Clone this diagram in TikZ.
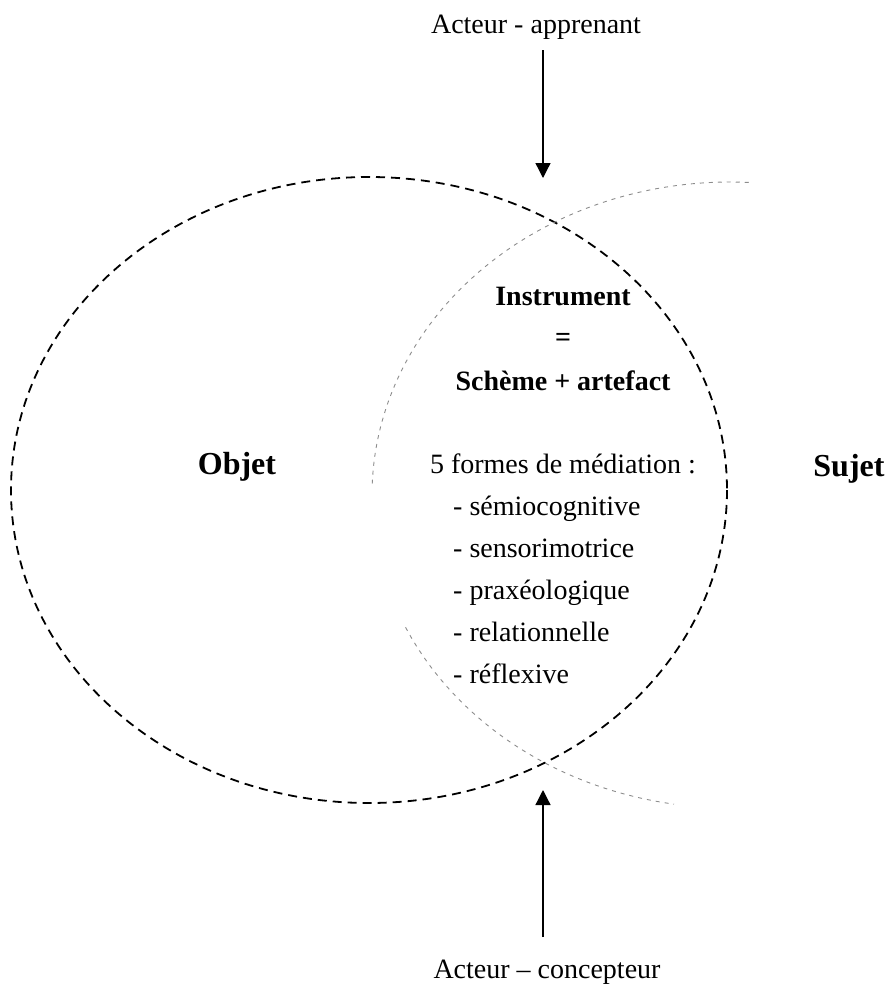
\documentclass[tikz,border=0pt]{standalone}
\usepackage{fontspec}
\setmainfont{Liberation Serif}
\usetikzlibrary{arrows.meta}
\tikzset{
  darkdash/.style={line width=1.8pt, dash pattern=on 9pt off 6pt, black},
  greydash/.style={line width=0.9pt, dash pattern=on 4pt off 5pt, black!45},
  txt/.style={inner sep=0pt, anchor=base, font=\fontsize{28}{34}\selectfont},
  btxt/.style={inner sep=0pt, anchor=base, font=\fontsize{28}{34}\selectfont\bfseries},
  bigtxt/.style={inner sep=0pt, anchor=base, font=\fontsize{32}{38}\selectfont\bfseries},
  itemtxt/.style={inner sep=0pt, anchor=base west, font=\fontsize{28}{34}\selectfont},
  actarrow/.style={line width=1.3pt, -{Triangle[width=15pt,length=15pt]}}
}
\begin{document}
\begin{tikzpicture}[x=1pt,y=-1pt]
\useasboundingbox (0,0) rectangle (889,986);
% ellipses
\draw[darkdash] (369,490) ellipse [x radius=358, y radius=313];
\draw[greydash] plot[domain=87:178, samples=80] ({730+358*cos(\x)}, {495-313*sin(\x)});
\draw[greydash] plot[domain=205:261, samples=60] ({730+358*cos(\x)}, {495-313*sin(\x)});
% texts
\node[txt] (app) at (536,33) {Acteur - apprenant};
\node[txt] (conc) at (547,978) {Acteur -- concepteur};
\node[bigtxt] (obj) at (237,474) {Objet};
\node[bigtxt] (suj) at (849,476) {Sujet};
\node[btxt] (instr) at (563,305) {Instrument};
\node[btxt] (eq) at (563,346) {=};
\node[btxt] (sch) at (563,390) {Schème + artefact};
\node[txt] (forms) at (563,473) {5 formes de médiation :};
\node[itemtxt] (i1) at (453,515) {- sémiocognitive};
\node[itemtxt] (i2) at (453,557) {- sensorimotrice};
\node[itemtxt] (i3) at (453,599) {- praxéologique};
\node[itemtxt] (i4) at (453,641) {- relationnelle};
\node[itemtxt] (i5) at (453,683) {- réflexive};
% arrows
\coordinate (topstart) at (543,50);
\coordinate (toptip) at (543,178);
\coordinate (botstart) at (543,937);
\coordinate (bottip) at (543,790);
\draw[actarrow] (topstart) -- (toptip);
\draw[actarrow] (botstart) -- (bottip);
\end{tikzpicture}
\end{document}
